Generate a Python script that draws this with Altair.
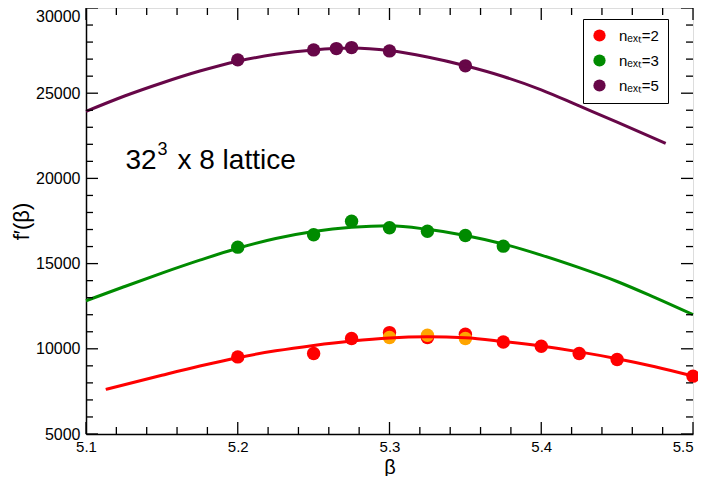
import altair as alt
import pandas as pd

# ---- data ----
LAB2, LAB3, LAB5 = "nₑₓₜ=2", "nₑₓₜ=3", "nₑₓₜ=5"

beta_n2 = [5.2, 5.25, 5.275, 5.3, 5.325, 5.35, 5.375, 5.4, 5.425, 5.45, 5.5]
f_n2 = [9525, 9725, 10600, 10950, 10660, 10850, 10400, 10150, 9725, 9375, 8395]
beta_n2_extra = [5.3, 5.325, 5.35]
f_n2_extra = [10660, 10800, 10600]
beta_n3 = [5.2, 5.25, 5.275, 5.3, 5.325, 5.35, 5.375]
f_n3 = [15966, 16690, 17488, 17100, 16903, 16651, 16025]
beta_n5 = [5.2, 5.25, 5.265, 5.275, 5.3, 5.35]
f_n5 = [26956, 27541, 27617, 27676, 27483, 26604]

fit2_beta = [5.113, 5.15, 5.175, 5.2, 5.225, 5.25, 5.275, 5.3, 5.325, 5.35, 5.375, 5.4, 5.425, 5.45, 5.475, 5.5]
fit2_f = [7620, 8450, 8990, 9480, 9880, 10200, 10460, 10640, 10700, 10650, 10430, 10160, 9820, 9420, 8950, 8400]
fit3_beta = [5.1, 5.125, 5.15, 5.175, 5.2, 5.225, 5.25, 5.275, 5.3, 5.325, 5.35, 5.375, 5.4, 5.425, 5.45, 5.475, 5.5]
fit3_f = [12820, 13640, 14440, 15200, 15900, 16470, 16880, 17130, 17220, 17010, 16650, 16150, 15500, 14760, 13950, 13000, 12000]
fit5_beta = [5.1, 5.125, 5.15, 5.175, 5.2, 5.225, 5.25, 5.275, 5.3, 5.325, 5.35, 5.375, 5.4, 5.425, 5.45, 5.482]
fit5_f = [23930, 24820, 25600, 26300, 26880, 27280, 27540, 27650, 27500, 27120, 26610, 25980, 25200, 24250, 23300, 22050]

x_major = [5.1, 5.2, 5.3, 5.4, 5.5]
x_minor = [5.12, 5.14, 5.16, 5.18, 5.22, 5.24, 5.26, 5.28, 5.32, 5.34, 5.36, 5.38,
           5.42, 5.44, 5.46, 5.48]
y_major = [5000, 10000, 15000, 20000, 25000, 30000]
y_minor = [6000, 7000, 8000, 9000, 11000, 12000, 13000, 14000, 16000, 17000, 18000, 19000,
           21000, 22000, 23000, 24000, 26000, 27000, 28000, 29000]

# annotation "32^3 x 8 lattice" (base, superscript, rest)
note_beta = [5.126]
note_f = [21000]
note_base = ["32"]
note_sup = ["3"]
note_rest = ["x 8 lattice"]

series_domain = [LAB2, LAB3, LAB5]
series_colors = ["#ff0000", "#008b00", "#670748"]
extra_color = "#ffa500"

# ---- tables ----
pts = pd.DataFrame({
    "beta": beta_n2 + beta_n3 + beta_n5,
    "f": f_n2 + f_n3 + f_n5,
    "series": [LAB2] * len(beta_n2) + [LAB3] * len(beta_n3) + [LAB5] * len(beta_n5),
})
extra = pd.DataFrame({"beta": beta_n2_extra, "f": f_n2_extra})
fits = pd.DataFrame({
    "beta": fit2_beta + fit3_beta + fit5_beta,
    "f": fit2_f + fit3_f + fit5_f,
    "series": [LAB2] * len(fit2_beta) + [LAB3] * len(fit3_beta) + [LAB5] * len(fit5_beta),
})
xt_major = pd.DataFrame({"beta": x_major})
xt_minor = pd.DataFrame({"beta": x_minor})
yt_major = pd.DataFrame({"f": y_major})
yt_minor = pd.DataFrame({"f": y_minor})
note = pd.DataFrame({"beta": note_beta, "f": note_f, "base": note_base,
                     "sup": note_sup, "rest": note_rest})

W, H = 607, 426
FONT = "Liberation Sans"
MAJ, MIN = 12, 7

xscale = alt.Scale(domain=[5.1, 5.5], nice=False, zero=False)
yscale = alt.Scale(domain=[5000, 30000], nice=False, zero=False)

X = alt.X("beta:Q", scale=xscale, axis=alt.Axis(
    values=x_major, format=".1f", title="β", grid=False, ticks=False, tickSize=0,
    labelFontSize=15, titleFontSize=20, labelFont=FONT, titleFont=FONT,
    labelColor="black", titleColor="black", domainColor="black", domainWidth=1.5,
    labelFlush=False,
    labelAlign={"condition": {"test": "datum.value >= 5.5", "value": "right"},
                "value": "center"},
    labelPadding=5, titlePadding=3, titleFontWeight="normal"))
Y = alt.Y("f:Q", scale=yscale, axis=alt.Axis(
    values=y_major, format="d", title="f′(β)", grid=False, ticks=False, tickSize=0,
    labelFontSize=16, titleFontSize=22, labelFont=FONT, titleFont=FONT,
    labelColor="black", titleColor="black", domainColor="black", domainWidth=1.5,
    labelFlush=False,
    labelBaseline={"condition": {"test": "datum.value == 30000", "value": "top"},
                   "value": "middle"},
    labelPadding=6, titlePadding=2, titleFontWeight="normal"))

points = alt.Chart(pts).mark_circle(size=180, opacity=1).encode(
    x=X, y=Y,
    fill=alt.Fill("series:N", scale=alt.Scale(domain=series_domain, range=series_colors),
                  legend=alt.Legend(
                      orient="none", legendX=497, legendY=11, title=None,
                      strokeColor="black", fillColor="white", padding=9,
                      labelFontSize=15, labelFont=FONT, labelColor="black",
                      symbolSize=150, symbolType="circle", symbolStrokeWidth=0,
                      rowPadding=9, labelOffset=12, cornerRadius=0)),
)
extra_pts = alt.Chart(extra).mark_circle(size=180, opacity=1, color=extra_color).encode(
    x="beta:Q", y="f:Q")
lines = alt.Chart(fits).mark_line(strokeWidth=3, interpolate="monotone").encode(
    x="beta:Q", y="f:Q",
    stroke=alt.Stroke("series:N", scale=alt.Scale(domain=series_domain, range=series_colors),
                      legend=None),
)

def xticks(df, length):
    bottom = alt.Chart(df).mark_rule(color="black", strokeWidth=1.3).encode(
        x="beta:Q", y=alt.value(H), y2=alt.value(H - length))
    top = alt.Chart(df).mark_rule(color="black", strokeWidth=1.3).encode(
        x="beta:Q", y=alt.value(0), y2=alt.value(length))
    return bottom + top

def yticks(df, length):
    left = alt.Chart(df).mark_rule(color="black", strokeWidth=1.3).encode(
        y="f:Q", x=alt.value(0), x2=alt.value(length))
    right = alt.Chart(df).mark_rule(color="black", strokeWidth=1.3).encode(
        y="f:Q", x=alt.value(W), x2=alt.value(W - length))
    return left + right

note_base_mark = alt.Chart(note).mark_text(align="left", baseline="middle", fontSize=28,
                                           font=FONT, color="black").encode(
    x="beta:Q", y="f:Q", text="base:N")
note_sup_mark = alt.Chart(note).mark_text(align="left", baseline="middle", fontSize=18,
                                          font=FONT, color="black", dx=32, dy=-11).encode(
    x="beta:Q", y="f:Q", text="sup:N")
note_rest_mark = alt.Chart(note).mark_text(align="left", baseline="middle", fontSize=28,
                                           font=FONT, color="black", dx=52).encode(
    x="beta:Q", y="f:Q", text="rest:N")

chart = alt.layer(
    points, extra_pts, lines,
    xticks(xt_major, MAJ), xticks(xt_minor, MIN),
    yticks(yt_major, MAJ), yticks(yt_minor, MIN),
    note_base_mark, note_sup_mark, note_rest_mark,
).resolve_scale(fill="independent", stroke="independent").properties(
    width=W, height=H,
    autosize=alt.AutoSizeParams(type="none"),
    padding={"left": 78, "top": 0, "right": 5, "bottom": 42},
).configure_view(stroke="black", strokeWidth=1.5).configure(background="white")

chart.save("out.html", embed_options={"renderer": "svg", "actions": False})
